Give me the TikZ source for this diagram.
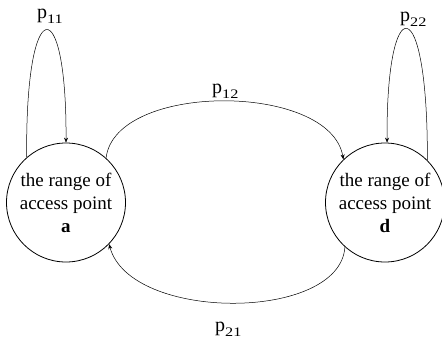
\documentclass[tikz,border=0pt]{standalone}
\usepackage{fontspec}
\setmainfont{Liberation Serif}
\usetikzlibrary{arrows.meta}
\newcommand\psub[1]{p\raisebox{-0.28em}{\scalebox{1.25}[1]{\fontsize{13}{13}\selectfont #1}}}
\tikzset{
  state/.style={draw, circle, line width=0.8pt, inner sep=0pt, minimum size=119pt,
    align=center, font=\fontsize{19}{23}\selectfont},
  conn/.style={line width=0.5pt, -{Stealth[length=5pt,width=4pt]}},
  plabel/.style={anchor=base west, inner sep=0pt, font=\fontsize{20}{20}\selectfont}
}
\begin{document}
\begin{tikzpicture}[x=1pt,y=-1pt]
\useasboundingbox (0,0) rectangle (442,341);
\node[state] (a) at (66,202.5) {the range of\\access point\\\textbf{a}};
\node[state] (d) at (385,202.5) {the range of\\access point\\\textbf{d}};
% self loops
\draw[conn] (a.131) .. controls (25,-10) and (67,-10) .. (a.90);
\draw[conn] (d.45) .. controls (428,-12) and (386,-12) .. (d.88);
% transitions
\draw[conn] (a.48) .. controls (115,82) and (330,82) .. (d.134);
\draw[conn] (d.228) .. controls (340,322) and (130,322) .. (a.-44);
% labels
\node[plabel] (l11) at (37,18) {\psub{11}};
\node[plabel] (l22) at (400,21) {\psub{22}};
\node[plabel] (l12) at (212,93) {\psub{12}};
\node[plabel] (l21) at (215,331) {\psub{21}};
\end{tikzpicture}
\end{document}
